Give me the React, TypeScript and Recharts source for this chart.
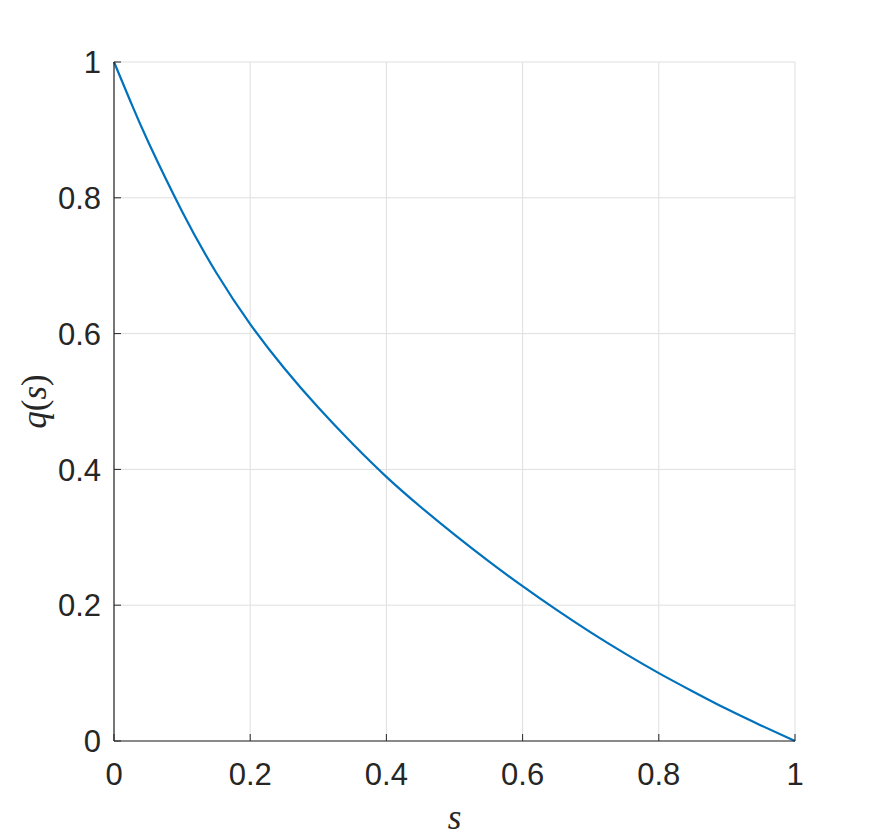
import React from "react"
import {
  LineChart,
  Line,
  XAxis,
  YAxis,
  CartesianGrid,
  Label,
} from "recharts"

const sValues = [
  0, 0.025, 0.05, 0.1, 0.15, 0.2, 0.25, 0.3, 0.35, 0.4, 0.45, 0.5, 0.55, 0.6,
  0.65, 0.7, 0.75, 0.8, 0.85, 0.9, 0.95, 1,
]
const qValues = [
  1, 0.94, 0.883, 0.78, 0.69, 0.614, 0.549, 0.491, 0.438, 0.389, 0.345, 0.304,
  0.265, 0.228, 0.193, 0.16, 0.129, 0.1, 0.073, 0.047, 0.023, 0,
]
const xTicks = [0, 0.2, 0.4, 0.6, 0.8, 1]
const yTicks = [0, 0.2, 0.4, 0.6, 0.8, 1]

const data = sValues.map((s, i) => ({ s, q: qValues[i] }))

const axisColor = "#262626"
const sansFont = "Liberation Sans, Arial, Helvetica, sans-serif"
const mathFont = "Liberation Serif, Times New Roman, serif"
const tickFontSize = 31

const XTick = ({ x, y, payload }: any) => (
  <text
    x={x}
    y={y}
    dy="0.72em"
    textAnchor="middle"
    fill={axisColor}
    style={{ fontFamily: sansFont, fontSize: tickFontSize }}
  >
    {payload.value}
  </text>
)

const YTick = ({ x, y, payload }: any) => (
  <text
    x={x}
    y={y}
    dy="0.36em"
    textAnchor="end"
    fill={axisColor}
    style={{ fontFamily: sansFont, fontSize: tickFontSize }}
  >
    {payload.value}
  </text>
)

const App: React.FC = () => {
  return (
    <div
      style={{
        position: "absolute",
        left: 0,
        top: 0,
        width: 880,
        height: 840,
        background: "white",
        fontFamily: sansFont,
      }}
    >
      <LineChart
        width={880}
        height={840}
        data={data}
        margin={{ top: 62, right: 85, bottom: 59, left: 54 }}
      >
        <CartesianGrid stroke="#dfdfdf" strokeWidth={1} />
        <XAxis
          dataKey="s"
          type="number"
          domain={[0, 1]}
          ticks={xTicks}
          height={40}
          tick={<XTick />}
          tickSize={-7}
          tickMargin={29}
          axisLine={{ stroke: axisColor, strokeWidth: 1.2 }}
          tickLine={{ stroke: axisColor }}
        >
          <Label
            content={({ viewBox }: any) => (
              <text
                x={viewBox.x + viewBox.width / 2}
                y={viewBox.y + 88}
                textAnchor="middle"
                style={{ fontFamily: mathFont, fontStyle: "italic", fontSize: 35 }}
                fill={axisColor}
              >
                s
              </text>
            )}
          />
        </XAxis>
        <XAxis
          xAxisId="top"
          orientation="top"
          type="number"
          domain={[0, 1]}
          allowDataOverflow
          ticks={xTicks}
          height={0}
          tick={false}
          tickSize={-7}
          axisLine={{ stroke: axisColor, strokeWidth: 1.2 }}
          tickLine={{ stroke: axisColor }}
        />
        <YAxis
          type="number"
          domain={[0, 1]}
          ticks={yTicks}
          width={60}
          tick={<YTick />}
          tickSize={-7}
          tickMargin={20}
          axisLine={{ stroke: axisColor, strokeWidth: 1.2 }}
          tickLine={{ stroke: axisColor }}
        >
          <Label
            content={({ viewBox }: any) => {
              const cx = viewBox.x - 20
              const cy = viewBox.y + viewBox.height / 2
              return (
                <text
                  x={cx}
                  y={cy}
                  transform={`rotate(-90, ${cx}, ${cy})`}
                  textAnchor="middle"
                  dominantBaseline="central"
                  style={{ fontFamily: mathFont, fontSize: 35 }}
                  fill={axisColor}
                >
                  <tspan fontStyle="italic">q</tspan>
                  <tspan>(</tspan>
                  <tspan fontStyle="italic">s</tspan>
                  <tspan>)</tspan>
                </text>
              )
            }}
          />
        </YAxis>
        <YAxis
          yAxisId="right"
          orientation="right"
          type="number"
          domain={[0, 1]}
          allowDataOverflow
          ticks={yTicks}
          width={0}
          tick={false}
          tickSize={-7}
          axisLine={{ stroke: axisColor, strokeWidth: 1.2 }}
          tickLine={{ stroke: axisColor }}
        />
        <Line
          type="natural"
          dataKey="q"
          stroke="#0072BD"
          strokeWidth={2.2}
          dot={false}
          isAnimationActive={false}
        />
      </LineChart>
    </div>
  )
}

export default App
